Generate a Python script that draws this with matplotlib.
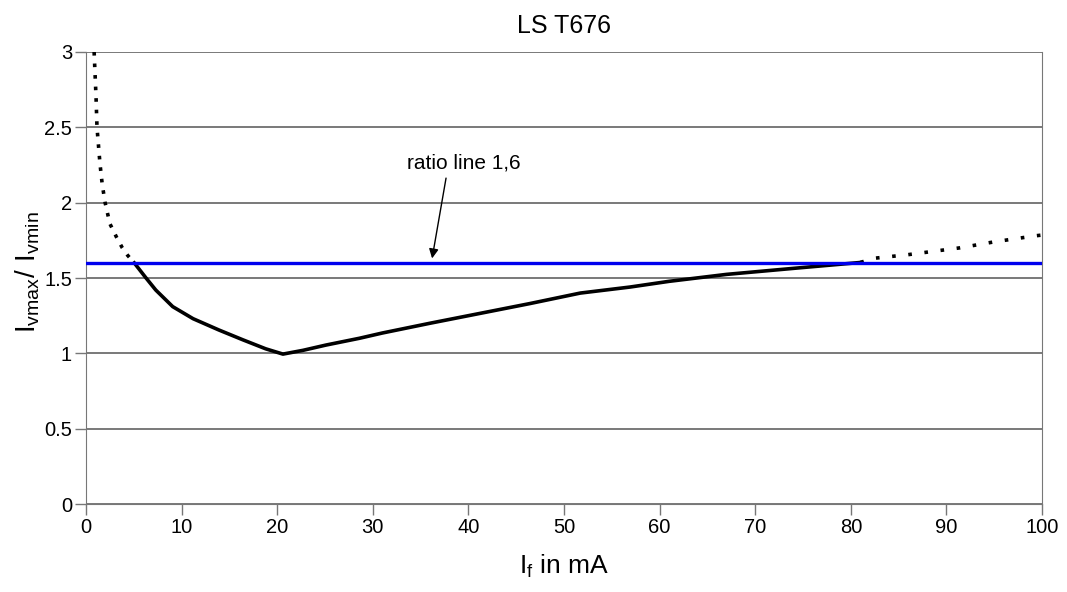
import numpy as np
import matplotlib.pyplot as plt

plt.rcParams['font.family'] = ['Liberation Sans', 'DejaVu Sans']
plt.rcParams['mathtext.fontset'] = 'custom'
plt.rcParams['mathtext.rm'] = 'Liberation Sans'

# dotted start (low currents)
x_low = [0.85, 1.05, 1.15, 1.46, 1.7, 2.0, 2.5, 3.2, 3.8, 4.36, 5.05]
y_low = [3.0, 2.70, 2.5, 2.26, 2.12, 2.0, 1.86, 1.77, 1.70, 1.65, 1.60]

# measured part
x_mid = [5.05, 6.28, 7.3, 9.07, 11.2, 13.9, 16.4, 18.8, 20.6, 22.7, 25.1,
         28.6, 31.0, 36.0, 41.2, 46.4, 51.7, 56.9, 61.0, 67.0, 74.0, 79.9,
         81.0]
y_mid = [1.60, 1.50, 1.42, 1.31, 1.23, 1.155, 1.09, 1.03, 0.995, 1.02,
         1.055, 1.10, 1.135, 1.20, 1.265, 1.33, 1.40, 1.44, 1.478, 1.524,
         1.564, 1.597, 1.603]

# dotted end (extrapolated)
x_high = [81.0, 82.3, 86, 91.4, 95, 99.3, 100]
y_high = [1.603, 1.63, 1.655, 1.70, 1.74, 1.78, 1.785]

ratio = 1.6

fig = plt.figure(figsize=(10.67, 5.92), dpi=100)
ax = fig.add_axes([0.0806, 0.1486, 0.896, 0.7636])

ax.plot(x_low, y_low, color='black', lw=2.6, ls=(0, (1, 2.2)), zorder=3)
ax.plot(x_mid, y_mid, color='black', lw=2.6, zorder=3)
ax.plot(x_high, y_high, color='black', lw=2.6, ls=(0, (1, 3.5)), zorder=3)
ax.axhline(ratio, color='#0000ee', lw=2.4, zorder=4)

ax.set_xlim(0, 100)
ax.set_ylim(0, 3)
ax.set_xticks(np.arange(0, 101, 10))
ax.set_yticks([0, 0.5, 1, 1.5, 2, 2.5, 3])
ax.set_yticklabels(['0', '0.5', '1', '1.5', '2', '2.5', '3'])
ax.yaxis.grid(True, color='#555555', lw=1.1)
ax.set_axisbelow(True)

for s in ax.spines.values():
    s.set_color('#777777')
ax.spines['top'].set_visible(False)
ax.tick_params(direction='out', length=8, width=1, color='#777777',
               labelsize=14.5, pad=2)

ax.set_title('LS T676', fontsize=18, pad=14)
ax.set_xlabel(r'$\mathregular{I_f}$ in mA', fontsize=19)
ax.xaxis.set_label_coords(0.5, -0.108)
ax.set_ylabel(r'$\mathregular{I_{vmax}/\ I_{vmin}}$', fontsize=20)
ax.yaxis.set_label_coords(-0.046, 0.513)

# label and arrow for the ratio line
ax.text(39.5, 2.26, 'ratio line 1,6', fontsize=15, ha='center', va='center')
ax.annotate('', xy=(36.2, 1.63), xytext=(37.66, 2.163),
            arrowprops=dict(arrowstyle='-|>', color='black', lw=1,
                            mutation_scale=14, shrinkA=0, shrinkB=0))

fig.savefig('out.png', dpi=100)
